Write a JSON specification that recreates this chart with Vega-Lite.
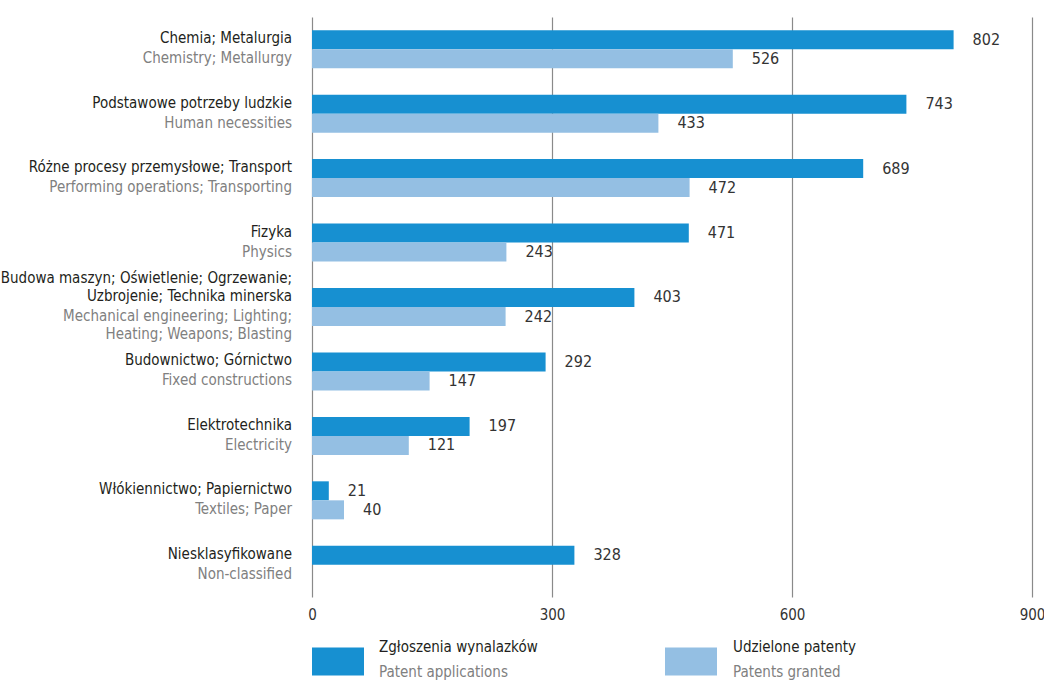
{
  "$schema": "https://vega.github.io/schema/vega-lite/v6.json",
  "width": 720,
  "height": 580,
  "autosize": {"type": "none"},
  "padding": {"left": 312, "top": 17, "right": 12, "bottom": 84},
  "background": "white",
  "config": {
    "view": {"stroke": null},
    "font": "DejaVu Sans Condensed",
    "text": {"font": "DejaVu Sans Condensed"}
  },
  "data": {
    "values": [
      {"cat": "Chemia", "pl_top": "", "pl": "Chemia; Metalurgia", "en": ["Chemistry; Metallurgy"], "key": "A", "series": "Zgłoszenia wynalazków", "series_en": "Patent applications", "value": 802},
      {"cat": "Chemia", "pl_top": "", "pl": "Chemia; Metalurgia", "en": ["Chemistry; Metallurgy"], "key": "B", "series": "Udzielone patenty", "series_en": "Patents granted", "value": 526},
      {"cat": "Podstawowe", "pl_top": "", "pl": "Podstawowe potrzeby ludzkie", "en": ["Human necessities"], "key": "A", "series": "Zgłoszenia wynalazków", "series_en": "Patent applications", "value": 743},
      {"cat": "Podstawowe", "pl_top": "", "pl": "Podstawowe potrzeby ludzkie", "en": ["Human necessities"], "key": "B", "series": "Udzielone patenty", "series_en": "Patents granted", "value": 433},
      {"cat": "Różne", "pl_top": "", "pl": "Różne procesy przemysłowe; Transport", "en": ["Performing operations; Transporting"], "key": "A", "series": "Zgłoszenia wynalazków", "series_en": "Patent applications", "value": 689},
      {"cat": "Różne", "pl_top": "", "pl": "Różne procesy przemysłowe; Transport", "en": ["Performing operations; Transporting"], "key": "B", "series": "Udzielone patenty", "series_en": "Patents granted", "value": 472},
      {"cat": "Fizyka", "pl_top": "", "pl": "Fizyka", "en": ["Physics"], "key": "A", "series": "Zgłoszenia wynalazków", "series_en": "Patent applications", "value": 471},
      {"cat": "Fizyka", "pl_top": "", "pl": "Fizyka", "en": ["Physics"], "key": "B", "series": "Udzielone patenty", "series_en": "Patents granted", "value": 243},
      {"cat": "Budowa", "pl_top": "Budowa maszyn; Oświetlenie; Ogrzewanie;", "pl": "Uzbrojenie; Technika minerska", "en": ["Mechanical engineering; Lighting;", "Heating; Weapons; Blasting"], "key": "A", "series": "Zgłoszenia wynalazków", "series_en": "Patent applications", "value": 403},
      {"cat": "Budowa", "pl_top": "Budowa maszyn; Oświetlenie; Ogrzewanie;", "pl": "Uzbrojenie; Technika minerska", "en": ["Mechanical engineering; Lighting;", "Heating; Weapons; Blasting"], "key": "B", "series": "Udzielone patenty", "series_en": "Patents granted", "value": 242},
      {"cat": "Budownictwo", "pl_top": "", "pl": "Budownictwo; Górnictwo", "en": ["Fixed constructions"], "key": "A", "series": "Zgłoszenia wynalazków", "series_en": "Patent applications", "value": 292},
      {"cat": "Budownictwo", "pl_top": "", "pl": "Budownictwo; Górnictwo", "en": ["Fixed constructions"], "key": "B", "series": "Udzielone patenty", "series_en": "Patents granted", "value": 147},
      {"cat": "Elektrotechnika", "pl_top": "", "pl": "Elektrotechnika", "en": ["Electricity"], "key": "A", "series": "Zgłoszenia wynalazków", "series_en": "Patent applications", "value": 197},
      {"cat": "Elektrotechnika", "pl_top": "", "pl": "Elektrotechnika", "en": ["Electricity"], "key": "B", "series": "Udzielone patenty", "series_en": "Patents granted", "value": 121},
      {"cat": "Włókiennictwo", "pl_top": "", "pl": "Włókiennictwo; Papiernictwo", "en": ["Textiles; Paper"], "key": "A", "series": "Zgłoszenia wynalazków", "series_en": "Patent applications", "value": 21},
      {"cat": "Włókiennictwo", "pl_top": "", "pl": "Włókiennictwo; Papiernictwo", "en": ["Textiles; Paper"], "key": "B", "series": "Udzielone patenty", "series_en": "Patents granted", "value": 40},
      {"cat": "Niesklasyfikowane", "pl_top": "", "pl": "Niesklasyfikowane", "en": ["Non-classified"], "key": "A", "series": "Zgłoszenia wynalazków", "series_en": "Patent applications", "value": 328}
    ]
  },
  "encoding": {
    "y": {
      "field": "cat",
      "type": "nominal",
      "sort": null,
      "axis": null,
      "scale": {"paddingInner": 0.41, "paddingOuter": 0.205}
    }
  },
  "layer": [
    {
      "mark": {"type": "bar"},
      "encoding": {
        "x": {
          "field": "value",
          "type": "quantitative",
          "scale": {"domain": [0, 900], "nice": false},
          "axis": {
            "title": null,
            "values": [0, 300, 600, 900],
            "grid": true,
            "gridColor": "#8a8a8a",
            "gridWidth": 1.2,
            "gridOpacity": 1,
            "domain": false,
            "ticks": false,
            "labelFlush": false,
            "labelPadding": 10,
            "labelFontSize": 15,
            "labelColor": "#333333",
            "labelFont": "DejaVu Sans Condensed"
          }
        },
        "yOffset": {
          "field": "key",
          "type": "nominal",
          "sort": ["A", "B"],
          "scale": {"paddingInner": 0, "paddingOuter": 0}
        },
        "color": {
          "field": "key",
          "type": "nominal",
          "scale": {"domain": ["A", "B"], "range": ["#1790d1", "#94bfe3"]},
          "legend": {
            "title": null,
            "orient": "none",
            "direction": "horizontal",
            "legendX": 0,
            "legendY": 618,
            "padding": 0,
            "symbolType": "M-1,-0.54H1V0.54H-1Z",
            "symbolSize": 2704,
            "symbolStrokeWidth": 0,
            "symbolOpacity": 1,
            "labelExpr": "''",
            "labelOffset": 0,
            "columnPadding": 301
          }
        },
        "opacity": {
          "field": "series",
          "type": "nominal",
          "sort": ["Zgłoszenia wynalazków", "Udzielone patenty"],
          "scale": {"range": [1, 1]},
          "legend": {
            "title": null,
            "orient": "none",
            "direction": "horizontal",
            "legendX": 52,
            "legendY": 622,
            "padding": 0,
            "symbolSize": 0,
            "symbolStrokeWidth": 0,
            "symbolFillColor": "transparent",
            "symbolStrokeColor": "transparent",
            "labelOffset": 0,
            "labelFontSize": 15,
            "labelColor": "#231f20",
            "labelFont": "DejaVu Sans Condensed",
            "columnPadding": 180
          }
        },
        "strokeDash": {
          "field": "series_en",
          "type": "nominal",
          "sort": ["Patent applications", "Patents granted"],
          "scale": {"range": [[1, 0], [1, 0]]},
          "legend": {
            "title": null,
            "orient": "none",
            "direction": "horizontal",
            "legendX": 52,
            "legendY": 647,
            "padding": 0,
            "symbolSize": 0,
            "symbolStrokeWidth": 0,
            "symbolFillColor": "transparent",
            "symbolStrokeColor": "transparent",
            "labelOffset": 0,
            "labelFontSize": 15,
            "labelColor": "#808080",
            "labelFont": "DejaVu Sans Condensed",
            "columnPadding": 210
          }
        }
      }
    },
    {
      "mark": {"type": "text", "align": "left", "baseline": "middle", "dx": 19, "fontSize": 16, "color": "#333333"},
      "encoding": {
        "x": {"field": "value", "type": "quantitative"},
        "yOffset": {"field": "key", "type": "nominal", "sort": ["A", "B"]},
        "text": {"field": "value", "type": "quantitative"}
      }
    },
    {
      "transform": [{"filter": "datum.key === 'A'"}],
      "mark": {"type": "text", "align": "right", "baseline": "bottom", "dx": -20, "dy": -3, "fontSize": 15, "color": "#231f20"},
      "encoding": {
        "x": {"datum": 0},
        "text": {"field": "pl"}
      }
    },
    {
      "transform": [{"filter": "datum.key === 'A'"}],
      "mark": {"type": "text", "align": "right", "baseline": "bottom", "dx": -20, "dy": -21, "fontSize": 15, "color": "#231f20"},
      "encoding": {
        "x": {"datum": 0},
        "text": {"field": "pl_top"}
      }
    },
    {
      "transform": [{"filter": "datum.key === 'A'"}],
      "mark": {"type": "text", "align": "right", "baseline": "top", "dx": -20, "dy": 2, "fontSize": 15, "lineHeight": 18, "color": "#808080"},
      "encoding": {
        "x": {"datum": 0},
        "text": {"field": "en"}
      }
    }
  ]
}
